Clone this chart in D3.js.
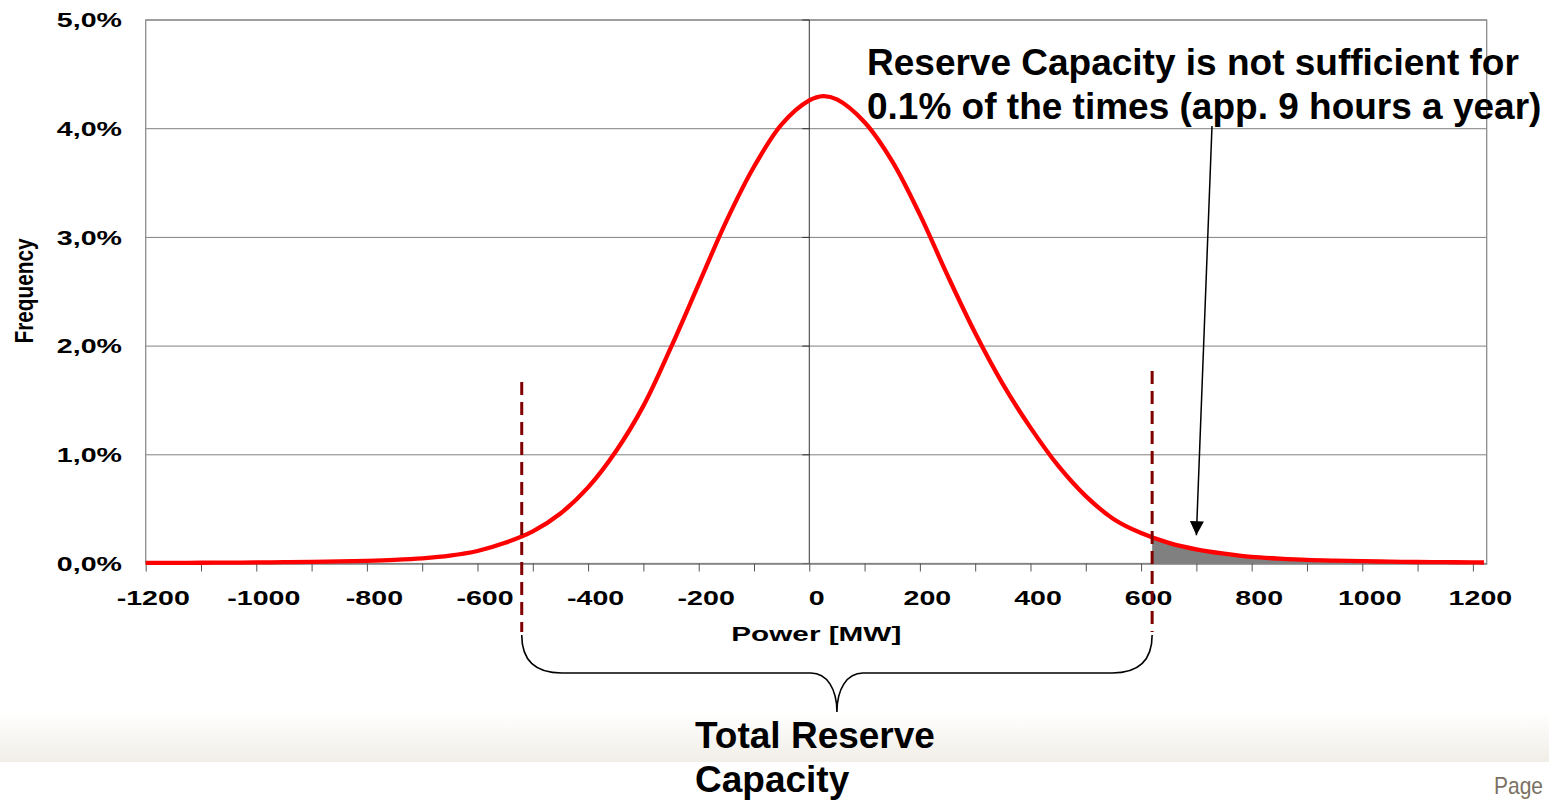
<!DOCTYPE html>
<html>
<head>
<meta charset="utf-8">
<script src="https://cdn.jsdelivr.net/npm/d3@7"></script>
<style>
  body { margin: 0; background: #fff; }
  svg { display: block; font-family: "Liberation Sans", Arial, sans-serif; }
</style>
</head>
<body>
<svg id="chart" width="1549" height="800"></svg>
<script>
// values
const powerMW = [-1200, -1150, -1100, -1050, -1000, -950, -900, -850, -800, -750, -700, -650, -600, -550, -500,
  -450, -400, -350, -300, -250, -200, -150, -100, -50, 0, 25, 50, 100, 150, 200, 250, 300, 350, 400, 450,
  500, 550, 600, 650, 700, 750, 800, 850, 900, 950, 1000, 1050, 1100, 1150, 1200, 1220];
const frequencyPct = [0.005, 0.006, 0.007, 0.008, 0.010, 0.012, 0.015, 0.019, 0.025, 0.034, 0.048, 0.072, 0.115, 0.19, 0.295,
  0.46, 0.70, 1.03, 1.45, 1.99, 2.57, 3.15, 3.65, 4.04, 4.26, 4.30, 4.27, 4.06, 3.70, 3.21, 2.65, 2.12, 1.65, 1.25, 0.90,
  0.62, 0.41, 0.28, 0.19, 0.13, 0.09, 0.06, 0.045, 0.033, 0.026, 0.021, 0.017, 0.014, 0.012, 0.010, 0.009];

const xTicks = d3.range(-1200, 1201, 100);
const xLabels = d3.range(-1200, 1201, 200);
const yTicks = [0, 1, 2, 3, 4, 5];
const reserveMW = [-520, 620];
const dashTopPct = [1.67, 1.77];
const arrowTip = [700, 0.26];
const noteLines = ['Reserve Capacity is not sufficient for', '0.1% of the times (app. 9 hours a year)'];
const braceLines = ['Total Reserve', 'Capacity'];

const data = powerMW.map((p, i) => ({p: p, f: frequencyPct[i]}));

const svg = d3.select('#chart');
const plotL = 145.7, plotR = 1486.7, plotT = 20, plotB = 563.5;

const x = d3.scaleLinear().domain([-1200, 1225]).range([plotL, plotR]);
const y = d3.scaleLinear().domain([0, 5]).range([plotB, plotT]);
const smooth = d3.curveCatmullRom.alpha(0.5);

// stretch text horizontally (the original chart was scaled wide)
function stretch(sel, k) {
  sel.each(function() {
    const w = this.getComputedTextLength();
    d3.select(this).attr('textLength', w * k).attr('lengthAdjust', 'spacingAndGlyphs');
  });
}
function fitTo(sel, w) {
  sel.attr('textLength', w).attr('lengthAdjust', 'spacingAndGlyphs');
}

const defs = svg.append('defs');
const grad = defs.append('linearGradient').attr('id', 'footer').attr('x1', 0).attr('y1', 0).attr('x2', 0).attr('y2', 1);
grad.append('stop').attr('offset', '0%').attr('stop-color', '#ffffff');
grad.append('stop').attr('offset', '100%').attr('stop-color', '#f1eee7');

defs.append('clipPath').attr('id', 'tail')
  .append('rect')
  .attr('x', x(reserveMW[1])).attr('y', plotT)
  .attr('width', plotR - x(reserveMW[1])).attr('height', plotB - plotT);

defs.append('marker')
  .attr('id', 'head')
  .attr('markerUnits', 'userSpaceOnUse')
  .attr('viewBox', '0 0 10 10')
  .attr('refX', 10).attr('refY', 5)
  .attr('markerWidth', 16).attr('markerHeight', 14)
  .attr('orient', 'auto')
  .append('path').attr('d', 'M0,0 L10,5 L0,10 z').attr('fill', '#000');

// slide footer band
svg.append('rect')
  .attr('x', 0).attr('y', 712).attr('width', 1549).attr('height', 50)
  .attr('fill', 'url(#footer)');

// grid lines
svg.append('g').selectAll('line')
  .data(yTicks)
  .enter().append('line')
  .attr('x1', plotL).attr('x2', plotR)
  .attr('y1', d => y(d)).attr('y2', d => y(d))
  .attr('stroke', '#808080').attr('stroke-width', 1);

svg.append('rect')
  .attr('x', plotL).attr('y', plotT).attr('width', plotR - plotL).attr('height', plotB - plotT)
  .attr('fill', 'none').attr('stroke', '#8c8c8c').attr('stroke-width', 1.3);

// value axis crossing at 0 MW
svg.append('line')
  .attr('x1', x(0)).attr('x2', x(0)).attr('y1', plotT).attr('y2', plotB)
  .attr('stroke', '#333').attr('stroke-width', 1);
svg.append('g').selectAll('line')
  .data(yTicks)
  .enter().append('line')
  .attr('x1', x(0) - 7).attr('x2', x(0))
  .attr('y1', d => y(d)).attr('y2', d => y(d))
  .attr('stroke', '#333').attr('stroke-width', 1);

// y labels
const yLab = svg.append('g').selectAll('text')
  .data(yTicks)
  .enter().append('text')
  .attr('x', 122).attr('y', d => y(d)).attr('dy', '0.36em')
  .attr('text-anchor', 'end')
  .attr('font-size', 20).attr('font-weight', 'bold')
  .text(d => d + ',0%');
stretch(yLab, 1.43);

// x axis
const xAxis = svg.append('g')
  .attr('transform', `translate(0,${plotB})`)
  .call(d3.axisBottom(x).tickValues(xTicks).tickSize(8).tickSizeOuter(0)
    .tickFormat(d => xLabels.includes(d) ? String(d) : ''));
xAxis.select('.domain').attr('stroke', '#808080').attr('stroke-width', 1.3);
xAxis.selectAll('.tick line').attr('stroke', '#555');
xAxis.selectAll('.tick text')
  .attr('font-family', '"Liberation Sans", Arial, sans-serif')
  .attr('font-size', 20).attr('font-weight', 'bold').attr('fill', '#000')
  .attr('x', 7).attr('y', 27).attr('dy', '0.71em')
  .call(stretch, 1.43);

svg.append('text')
  .attr('x', x(0) + 7).attr('y', 641)
  .attr('text-anchor', 'middle')
  .attr('font-size', 20).attr('font-weight', 'bold')
  .text('Power [MW]')
  .call(fitTo, 170);

svg.append('text')
  .attr('transform', 'translate(33,291) rotate(-90)')
  .attr('text-anchor', 'middle')
  .attr('font-family', '"Liberation Sans Narrow", "Liberation Sans", Arial, sans-serif')
  .attr('font-size', 25).attr('font-weight', 'bold')
  .text('Frequency')
  .call(fitTo, 105);

// shaded tail beyond the reserve
svg.append('path')
  .datum(data)
  .attr('clip-path', 'url(#tail)')
  .attr('fill', '#808080')
  .attr('d', d3.area().x(d => x(d.p)).y0(plotB).y1(d => y(d.f)).curve(smooth));

// frequency curve
svg.append('path')
  .datum(data)
  .attr('fill', 'none')
  .attr('stroke', '#ff0000')
  .attr('stroke-width', 4.3)
  .attr('stroke-linejoin', 'round')
  .attr('d', d3.line().x(d => x(d.p)).y(d => y(d.f)).curve(smooth));

// reserve bounds
svg.append('g').selectAll('line')
  .data(reserveMW)
  .enter().append('line')
  .attr('x1', d => x(d)).attr('x2', d => x(d))
  .attr('y1', (d, i) => y(dashTopPct[i])).attr('y2', 632)
  .attr('stroke', '#800000').attr('stroke-width', 3)
  .attr('stroke-dasharray', '13,7');

// brace
const bx1 = x(reserveMW[0]), bx2 = x(reserveMW[1]), bm = (bx1 + bx2) / 2;
const bTop = 635, bMid = 673, bTip = 712;
svg.append('path')
  .attr('d', `M${bx1},${bTop} C${bx1},${bMid - 12} ${bx1 + 14},${bMid} ${bx1 + 40},${bMid}
    L${bm - 26},${bMid} C${bm - 10},${bMid} ${bm},${bMid + 16} ${bm},${bTip}
    C${bm},${bMid + 16} ${bm + 10},${bMid} ${bm + 26},${bMid}
    L${bx2 - 40},${bMid} C${bx2 - 14},${bMid} ${bx2},${bMid - 12} ${bx2},${bTop}`)
  .attr('fill', 'none').attr('stroke', '#000').attr('stroke-width', 1.6);

svg.append('g').selectAll('text')
  .data(braceLines)
  .enter().append('text')
  .attr('x', 695).attr('y', (d, i) => 748 + i * 44)
  .attr('font-size', 37).attr('font-weight', 'bold')
  .text(d => d);

// annotation
svg.append('g').selectAll('text')
  .data(noteLines)
  .enter().append('text')
  .attr('x', 867).attr('y', (d, i) => 75 + i * 44)
  .attr('font-size', 37).attr('font-weight', 'bold')
  .text(d => d);

svg.append('line')
  .attr('x1', 1212).attr('y1', 126)
  .attr('x2', x(arrowTip[0])).attr('y2', y(arrowTip[1]))
  .attr('stroke', '#000').attr('stroke-width', 1.5)
  .attr('marker-end', 'url(#head)');

svg.append('text')
  .attr('x', 1494).attr('y', 794)
  .attr('font-family', '"Liberation Sans Narrow", "Liberation Sans", Arial, sans-serif')
  .attr('font-size', 24).attr('fill', '#7a7163')
  .text('Page')
  .call(fitTo, 49);
</script>
</body>
</html>
